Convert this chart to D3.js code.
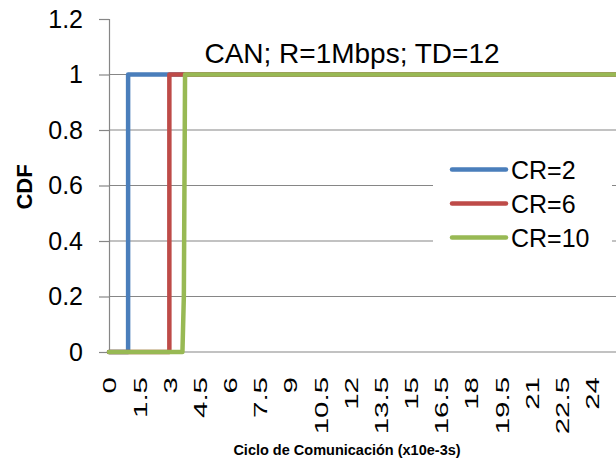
<!DOCTYPE html>
<html><head><meta charset="utf-8">
<script src="https://cdn.jsdelivr.net/npm/d3@7"></script>
<style>body{margin:0;background:#fff}svg{display:block}text{font-family:"Liberation Sans",Arial,sans-serif}</style>
</head><body>
<script>
const title = "CAN; R=1Mbps; TD=12";
const xTitle = "Ciclo de Comunicación (x10e-3s)";
const yTitle = "CDF";
const seriesNames = ["CR=2", "CR=6", "CR=10"];
const seriesColors = ["#4A7EBB", "#BE4B48", "#98B954"];
const cr2X = [0, 0.95, 0.95, 25.2];
const cr2Y = [0, 0, 1, 1];
const cr6X = [0, 3.0, 3.0, 25.2];
const cr6Y = [0, 0, 1, 1];
const cr10X = [0, 3.65, 3.72, 3.78, 25.2];
const cr10Y = [0, 0, 0.2, 1, 1];
const xTicks = [0, 1.5, 3, 4.5, 6, 7.5, 9, 10.5, 12, 13.5, 15, 16.5, 18, 19.5, 21, 22.5, 24];
const yTicks = [0, 0.2, 0.4, 0.6, 0.8, 1, 1.2];

const W = 616, H = 459;
const svg = d3.select("body").append("svg").attr("width", W).attr("height", H);
const x = d3.scaleLinear().domain([0, 25.2]).range([109, 616]);
const y = d3.scaleLinear().domain([0, 1.2]).range([352, 19]);
const grid = "#868686";

// gridlines
svg.append("g").selectAll("line").data(yTicks.filter(v => v > 0 && v < 1.2)).join("line")
  .attr("x1", x(0)).attr("x2", W).attr("y1", d => y(d)).attr("y2", d => y(d))
  .attr("stroke", grid).attr("stroke-width", 1.2);

// y axis
const ya = svg.append("g").attr("transform", `translate(${x(0)},0)`)
  .call(d3.axisLeft(y).tickValues(yTicks).tickSize(10).tickPadding(16).tickFormat(d3.format("")));
ya.select(".domain").attr("stroke", grid).attr("stroke-width", 1.2);
ya.selectAll(".tick line").attr("stroke", grid).attr("stroke-width", 1.2);
ya.selectAll(".tick text").attr("font-size", 25).attr("fill", "#000").attr("font-family", "Liberation Sans, Arial, sans-serif");

// x axis
const xa = svg.append("g").attr("transform", `translate(0,${y(0)})`)
  .call(d3.axisBottom(x).tickValues(xTicks).tickSize(0).tickFormat(d3.format("")));
xa.select(".domain").attr("stroke", grid).attr("stroke-width", 1.2).attr("d", `M${x(0)},0H${W}`);
xa.selectAll(".tick text")
  .attr("font-size", 19).attr("fill", "#000").attr("font-family", "Liberation Sans, Arial, sans-serif")
  .attr("text-anchor", "end").attr("y", 0).attr("dy", "0.36em")
  .attr("transform", "translate(0,25) rotate(-90) scale(1.55,1)");

// series
const line = d3.line().x(d => x(d[0])).y(d => y(d[1]));
const series = [
  d3.zip(cr2X, cr2Y),
  d3.zip(cr6X, cr6Y),
  d3.zip(cr10X, cr10Y)
];
svg.append("g").selectAll("path").data(series).join("path")
  .attr("d", line).attr("fill", "none")
  .attr("stroke", (d, i) => seriesColors[i]).attr("stroke-width", 4.5)
  .attr("stroke-linejoin", "round").attr("stroke-linecap", "round");

// title
svg.append("text").attr("x", 352).attr("y", 63).attr("text-anchor", "middle")
  .attr("font-size", 28).attr("fill", "#000").text(title);

// legend
const lg = svg.append("g");
lg.append("rect").attr("x", 433).attr("y", 142).attr("width", 179).attr("height", 116).attr("fill", "#fff");
seriesNames.forEach((n, i) => {
  const yy = 169.5 + i * 34;
  lg.append("line").attr("x1", 452).attr("x2", 506).attr("y1", yy).attr("y2", yy)
    .attr("stroke", seriesColors[i]).attr("stroke-width", 4.5).attr("stroke-linecap", "round");
  lg.append("text").attr("x", 511).attr("y", yy).attr("dy", "0.36em")
    .attr("font-size", 25).attr("fill", "#000").text(n);
});

// axis titles
svg.append("text").attr("x", 347).attr("y", 455).attr("text-anchor", "middle")
  .attr("font-size", 14.5).attr("font-weight", "bold").attr("fill", "#000").text(xTitle);
svg.append("text").attr("transform", "translate(32,187) rotate(-90)").attr("text-anchor", "middle")
  .attr("font-size", 22).attr("font-weight", "bold").attr("fill", "#000").text(yTitle);
</script>
</body></html>
